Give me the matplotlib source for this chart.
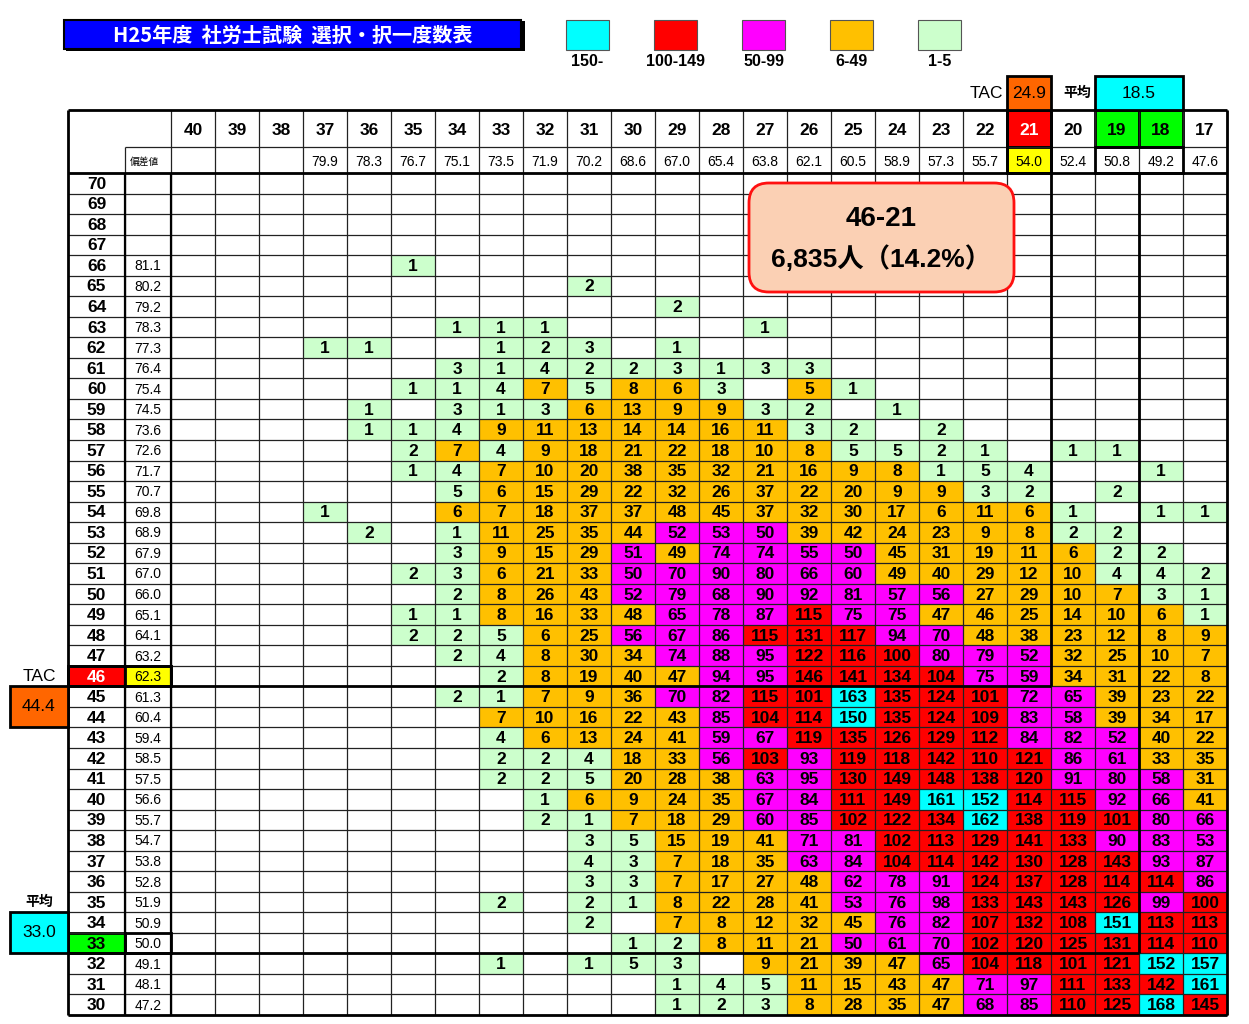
import matplotlib
matplotlib.use("Agg")
import matplotlib.pyplot as plt
from matplotlib.patches import Rectangle, FancyBboxPatch

plt.rcParams["font.family"] = ["Liberation Sans", "Noto Sans CJK JP", "DejaVu Sans"]

# ── データ ────────────────────────────────────────────────────────────────
title = "H25年度  社労士試験  選択・択一度数表"

col_scores = [40, 39, 38, 37, 36, 35, 34, 33, 32, 31, 30, 29, 28, 27, 26, 25, 24, 23, 22, 21, 20, 19, 18, 17]
col_dev = ["", "", "", "79.9", "78.3", "76.7", "75.1", "73.5", "71.9", "70.2", "68.6", "67.0",
           "65.4", "63.8", "62.1", "60.5", "58.9", "57.3", "55.7", "54.0", "52.4", "50.8", "49.2", "47.6"]

row_scores = list(range(70, 29, -1))
row_dev = ["", "", "", "", "81.1", "80.2", "79.2", "78.3", "77.3", "76.4", "75.4", "74.5", "73.6",
           "72.6", "71.7", "70.7", "69.8", "68.9", "67.9", "67.0", "66.0", "65.1", "64.1", "63.2",
           "62.3", "61.3", "60.4", "59.4", "58.5", "57.5", "56.6", "55.7", "54.7", "53.8", "52.8",
           "51.9", "50.9", "50.0", "49.1", "48.1", "47.2"]

counts = [
    [0] * 24,  # 70
    [0] * 24,  # 69
    [0] * 24,  # 68
    [0] * 24,  # 67
    [0, 0, 0, 0, 0, 1, 0, 0, 0, 0, 0, 0, 0, 0, 0, 0, 0, 0, 0, 0, 0, 0, 0, 0],  # 66
    [0, 0, 0, 0, 0, 0, 0, 0, 0, 2, 0, 0, 0, 0, 0, 0, 0, 0, 0, 0, 0, 0, 0, 0],  # 65
    [0, 0, 0, 0, 0, 0, 0, 0, 0, 0, 0, 2, 0, 0, 0, 0, 0, 0, 0, 0, 0, 0, 0, 0],  # 64
    [0, 0, 0, 0, 0, 0, 1, 1, 1, 0, 0, 0, 0, 1, 0, 0, 0, 0, 0, 0, 0, 0, 0, 0],  # 63
    [0, 0, 0, 1, 1, 0, 0, 1, 2, 3, 0, 1, 0, 0, 0, 0, 0, 0, 0, 0, 0, 0, 0, 0],  # 62
    [0, 0, 0, 0, 0, 0, 3, 1, 4, 2, 2, 3, 1, 3, 3, 0, 0, 0, 0, 0, 0, 0, 0, 0],  # 61
    [0, 0, 0, 0, 0, 1, 1, 4, 7, 5, 8, 6, 3, 0, 5, 1, 0, 0, 0, 0, 0, 0, 0, 0],  # 60
    [0, 0, 0, 0, 1, 0, 3, 1, 3, 6, 13, 9, 9, 3, 2, 0, 1, 0, 0, 0, 0, 0, 0, 0],  # 59
    [0, 0, 0, 0, 1, 1, 4, 9, 11, 13, 14, 14, 16, 11, 3, 2, 0, 2, 0, 0, 0, 0, 0, 0],  # 58
    [0, 0, 0, 0, 0, 2, 7, 4, 9, 18, 21, 22, 18, 10, 8, 5, 5, 2, 1, 0, 1, 1, 0, 0],  # 57
    [0, 0, 0, 0, 0, 1, 4, 7, 10, 20, 38, 35, 32, 21, 16, 9, 8, 1, 5, 4, 0, 0, 1, 0],  # 56
    [0, 0, 0, 0, 0, 0, 5, 6, 15, 29, 22, 32, 26, 37, 22, 20, 9, 9, 3, 2, 0, 2, 0, 0],  # 55
    [0, 0, 0, 1, 0, 0, 6, 7, 18, 37, 37, 48, 45, 37, 32, 30, 17, 6, 11, 6, 1, 0, 1, 1],  # 54
    [0, 0, 0, 0, 2, 0, 1, 11, 25, 35, 44, 52, 53, 50, 39, 42, 24, 23, 9, 8, 2, 2, 0, 0],  # 53
    [0, 0, 0, 0, 0, 0, 3, 9, 15, 29, 51, 49, 74, 74, 55, 50, 45, 31, 19, 11, 6, 2, 2, 0],  # 52
    [0, 0, 0, 0, 0, 2, 3, 6, 21, 33, 50, 70, 90, 80, 66, 60, 49, 40, 29, 12, 10, 4, 4, 2],  # 51
    [0, 0, 0, 0, 0, 0, 2, 8, 26, 43, 52, 79, 68, 90, 92, 81, 57, 56, 27, 29, 10, 7, 3, 1],  # 50
    [0, 0, 0, 0, 0, 1, 1, 8, 16, 33, 48, 65, 78, 87, 115, 75, 75, 47, 46, 25, 14, 10, 6, 1],  # 49
    [0, 0, 0, 0, 0, 2, 2, 5, 6, 25, 56, 67, 86, 115, 131, 117, 94, 70, 48, 38, 23, 12, 8, 9],  # 48
    [0, 0, 0, 0, 0, 0, 2, 4, 8, 30, 34, 74, 88, 95, 122, 116, 100, 80, 79, 52, 32, 25, 10, 7],  # 47
    [0, 0, 0, 0, 0, 0, 0, 2, 8, 19, 40, 47, 94, 95, 146, 141, 134, 104, 75, 59, 34, 31, 22, 8],  # 46
    [0, 0, 0, 0, 0, 0, 2, 1, 7, 9, 36, 70, 82, 115, 101, 163, 135, 124, 101, 72, 65, 39, 23, 22],  # 45
    [0, 0, 0, 0, 0, 0, 0, 7, 10, 16, 22, 43, 85, 104, 114, 150, 135, 124, 109, 83, 58, 39, 34, 17],  # 44
    [0, 0, 0, 0, 0, 0, 0, 4, 6, 13, 24, 41, 59, 67, 119, 135, 126, 129, 112, 84, 82, 52, 40, 22],  # 43
    [0, 0, 0, 0, 0, 0, 0, 2, 2, 4, 18, 33, 56, 103, 93, 119, 118, 142, 110, 121, 86, 61, 33, 35],  # 42
    [0, 0, 0, 0, 0, 0, 0, 2, 2, 5, 20, 28, 38, 63, 95, 130, 149, 148, 138, 120, 91, 80, 58, 31],  # 41
    [0, 0, 0, 0, 0, 0, 0, 0, 1, 6, 9, 24, 35, 67, 84, 111, 149, 161, 152, 114, 115, 92, 66, 41],  # 40
    [0, 0, 0, 0, 0, 0, 0, 0, 2, 1, 7, 18, 29, 60, 85, 102, 122, 134, 162, 138, 119, 101, 80, 66],  # 39
    [0, 0, 0, 0, 0, 0, 0, 0, 0, 3, 5, 15, 19, 41, 71, 81, 102, 113, 129, 141, 133, 90, 83, 53],  # 38
    [0, 0, 0, 0, 0, 0, 0, 0, 0, 4, 3, 7, 18, 35, 63, 84, 104, 114, 142, 130, 128, 143, 93, 87],  # 37
    [0, 0, 0, 0, 0, 0, 0, 0, 0, 3, 3, 7, 17, 27, 48, 62, 78, 91, 124, 137, 128, 114, 114, 86],  # 36
    [0, 0, 0, 0, 0, 0, 0, 2, 0, 2, 1, 8, 22, 28, 41, 53, 76, 98, 133, 143, 143, 126, 99, 100],  # 35
    [0, 0, 0, 0, 0, 0, 0, 0, 0, 2, 0, 7, 8, 12, 32, 45, 76, 82, 107, 132, 108, 151, 113, 113],  # 34
    [0, 0, 0, 0, 0, 0, 0, 0, 0, 0, 1, 2, 8, 11, 21, 50, 61, 70, 102, 120, 125, 131, 114, 110],  # 33
    [0, 0, 0, 0, 0, 0, 0, 1, 0, 1, 5, 3, 0, 9, 21, 39, 47, 65, 104, 118, 101, 121, 152, 157],  # 32
    [0, 0, 0, 0, 0, 0, 0, 0, 0, 0, 0, 1, 4, 5, 11, 15, 43, 47, 71, 97, 111, 133, 142, 161],  # 31
    [0, 0, 0, 0, 0, 0, 0, 0, 0, 0, 0, 1, 2, 3, 8, 28, 35, 47, 68, 85, 110, 125, 168, 145],  # 30
]

# 度数の色区分
bin_mins = [150, 100, 50, 6, 1]
bin_labels = ["150-", "100-149", "50-99", "6-49", "1-5"]
bin_colors = ["#00FFFF", "#FF0000", "#FF00FF", "#FFC000", "#CCFFCC"]
# 元の表で区分と色が食い違っているセル (択一, 選択) -> 色区分
color_override = {(60, 26): "6-49"}

tac_score = (46, 21)
tac_avg = {"選択": "24.9", "択一": "44.4"}
mean_score = (33, 18.5)
mean_avg = {"選択": "18.5", "択一": "33.0"}
callout = ["46-21", "6,835人（14.2%）"]

# ── レイアウト ─────────────────────────────────────────────────────────────
W, H = 1249, 1024
COL_PX, ROW_PX = 44.0, 842.0 / 41
HDR1 = -63 / ROW_PX      # 列番号行の上端
HDR2 = -26 / ROW_PX      # 偏差値行の上端
X_RN = -103 / COL_PX     # 行番号列の左端
X_DV = -46 / COL_PX      # 偏差値列の左端
X_BOX = -161 / COL_PX    # 左側ボックスの左端
THIN, THICK = 0.9, 2.0
NUM_FONT = ["Liberation Sans", "Noto Sans CJK JP"]

fig = plt.figure(figsize=(W / 100, H / 100), dpi=100)
ax = fig.add_axes([171 / W, 1 - 1015 / H, (1227 - 171) / W, (1015 - 173) / H])
ax.set_xlim(0, len(col_scores))
ax.set_ylim(len(row_scores), 0)
ax.axis("off")

n_rows, n_cols = len(row_scores), len(col_scores)


def cell_color(v, rs, cs):
    if (rs, cs) in color_override:
        return bin_colors[bin_labels.index(color_override[(rs, cs)])]
    for m, c in zip(bin_mins, bin_colors):
        if v >= m:
            return c
    return None


def box(x0, y0, w, h, fc="none", lw=THICK, z=3):
    ax.add_patch(Rectangle((x0, y0), w, h, facecolor=fc, edgecolor="black",
                           linewidth=lw, zorder=z, clip_on=False))


# 度数セル
for i, rs in enumerate(row_scores):
    for j, cs in enumerate(col_scores):
        v = counts[i][j]
        if not v:
            continue
        ax.add_patch(Rectangle((j, i), 1, 1, facecolor=cell_color(v, rs, cs),
                               edgecolor="none", zorder=1))
        ax.text(j + 0.5, i + 0.55, str(v), ha="center", va="center", fontsize=12.5,
                fontweight="bold", family=NUM_FONT, zorder=4)

# 強調ヘッダーの塗り
tac_c = col_scores.index(tac_score[1])
tac_r = row_scores.index(tac_score[0])
mean_r = row_scores.index(mean_score[0])
mean_c = col_scores.index(19)
box(tac_c, HDR1, 1, HDR2 - HDR1, fc="#FF0000", z=1)
box(tac_c, HDR2, 1, -HDR2, fc="#FFFF00", z=1)
for j in (mean_c, mean_c + 1):
    box(j, HDR1, 1, HDR2 - HDR1, fc="#00FF00", z=1)
box(X_RN, tac_r, X_DV - X_RN, 1, fc="#FF0000", z=1)
box(X_DV, tac_r, -X_DV, 1, fc="#FFFF00", z=1)
box(X_RN, mean_r, X_DV - X_RN, 1, fc="#00FF00", z=1)

# 細い罫線
ax.hlines(range(n_rows + 1), X_RN, n_cols, color="#222222", lw=THIN, zorder=2, clip_on=False)
ax.hlines(HDR2, X_DV, n_cols, color="#222222", lw=THIN, zorder=2, clip_on=False)
ax.vlines(range(n_cols + 1), HDR1, n_rows, color="#222222", lw=THIN, zorder=2, clip_on=False)
ax.vlines(X_DV, HDR2, n_rows, color="#222222", lw=THIN, zorder=2, clip_on=False)

# 太い罫線
ax.hlines([HDR1, 0, n_rows], X_RN, n_cols, color="black", lw=THICK, zorder=3, clip_on=False)
ax.vlines([X_RN, n_cols], HDR1, n_rows, color="black", lw=THICK, zorder=3, clip_on=False)
ax.vlines([X_DV, 0], 0, n_rows, color="black", lw=THICK * 0.8, zorder=3, clip_on=False)
ax.vlines(tac_c + 1, HDR1, tac_r + 1, color="black", lw=THICK, zorder=3)
ax.hlines(tac_r + 1, X_RN, tac_c + 1, color="black", lw=THICK, zorder=3, clip_on=False)
ax.vlines(mean_c + 1, HDR1, mean_r + 1, color="black", lw=THICK, zorder=3)
ax.hlines(mean_r + 1, X_RN, mean_c + 1, color="black", lw=THICK, zorder=3, clip_on=False)
box(tac_c, HDR1, 1, -HDR1)
box(mean_c, HDR2, 2, -HDR2)
box(X_RN, tac_r, -X_RN, 1)
box(X_DV, mean_r, -X_DV, 1)

# ヘッダー文字
for j, (cs, dv) in enumerate(zip(col_scores, col_dev)):
    ax.text(j + 0.5, (HDR1 + HDR2) / 2 + 0.1, str(cs), ha="center", va="center",
            fontsize=12.5, fontweight="bold", family=NUM_FONT,
            color="white" if j == tac_c else "black", zorder=4, clip_on=False)
    ax.text(j + 0.5, HDR2 / 2 + 0.1, dv, ha="center", va="center", fontsize=10,
            family=NUM_FONT, zorder=4, clip_on=False)
ax.text(X_DV + 0.12, HDR2 / 2 + 0.1, "偏差値", ha="left", va="center", fontsize=7,
        family=["Noto Sans CJK JP"], zorder=4, clip_on=False)

# 行見出し
for i, (rs, dv) in enumerate(zip(row_scores, row_dev)):
    ax.text((X_RN + X_DV) / 2, i + 0.55, str(rs), ha="center", va="center", fontsize=12.5,
            fontweight="bold", family=NUM_FONT, color="white" if i == tac_r else "black",
            zorder=4, clip_on=False)
    ax.text(X_DV / 2, i + 0.55, dv, ha="center", va="center", fontsize=10,
            family=NUM_FONT, zorder=4, clip_on=False)

# TAC・平均のボックス
ax.text(tac_c - 0.08, HDR1 - 0.82, "TAC", ha="right", va="center", fontsize=12.5,
        family=NUM_FONT, clip_on=False)
box(tac_c, HDR1 - 1.66, 1, 1.66, fc="#FF6600")
ax.text(tac_c + 0.5, HDR1 - 0.82, tac_avg["選択"], ha="center", va="center", fontsize=12.5,
        family=NUM_FONT, clip_on=False, zorder=4)
ax.text(mean_c - 0.08, HDR1 - 0.82, "平均", ha="right", va="center", fontsize=10,
        fontweight="bold", family=["Noto Sans CJK JP"], clip_on=False)
box(mean_c, HDR1 - 1.66, 2, 1.66, fc="#00FFFF")
ax.text(mean_c + 1, HDR1 - 0.82, mean_avg["選択"], ha="center", va="center", fontsize=12.5,
        family=NUM_FONT, clip_on=False, zorder=4)

ax.text((X_BOX + X_RN) / 2, tac_r + 0.5, "TAC", ha="center", va="center", fontsize=12.5,
        family=NUM_FONT, clip_on=False)
box(X_BOX, tac_r + 1, X_RN - X_BOX, 2, fc="#FF6600")
ax.text((X_BOX + X_RN) / 2, tac_r + 2, tac_avg["択一"], ha="center", va="center", fontsize=12.5,
        family=NUM_FONT, clip_on=False, zorder=4)
ax.text((X_BOX + X_RN) / 2, mean_r - 1.5, "平均", ha="center", va="center", fontsize=10,
        fontweight="bold", family=["Noto Sans CJK JP"], clip_on=False)
box(X_BOX, mean_r - 1, X_RN - X_BOX, 2, fc="#00FFFF")
ax.text((X_BOX + X_RN) / 2, mean_r, mean_avg["択一"], ha="center", va="center", fontsize=12.5,
        family=NUM_FONT, clip_on=False, zorder=4)

# 吹き出し
cx0, cx1 = (749 - 171) / COL_PX, (1014 - 171) / COL_PX
cy0, cy1 = (183 - 173) / ROW_PX, (292 - 173) / ROW_PX
ax.add_patch(FancyBboxPatch((cx0, cy0), cx1 - cx0, cy1 - cy0,
                            boxstyle="round,pad=0,rounding_size=0.45",
                            mutation_aspect=COL_PX / ROW_PX, facecolor="#FBD0B4",
                            edgecolor="#FF1010", linewidth=2.0, zorder=5))
ax.text((cx0 + cx1) / 2, cy0 + 1.75, callout[0], ha="center", va="center", fontsize=20,
        fontweight="bold", family=NUM_FONT, zorder=6)
ax.text((cx0 + cx1) / 2, cy0 + 3.7, callout[1], ha="center", va="center", fontsize=19,
        fontweight="bold", family=NUM_FONT, zorder=6)

# タイトル
fig.patches.append(Rectangle((66 / W, 1 - 51 / H), 459 / W, 30 / H, transform=fig.transFigure,
                             facecolor="black", edgecolor="none", zorder=1))
fig.patches.append(Rectangle((64 / W, 1 - 49 / H), 457 / W, 29 / H, transform=fig.transFigure,
                             facecolor="#0000FF", edgecolor="black", linewidth=1.5, zorder=2))
fig.text(293 / W, 1 - 35 / H, title, ha="center", va="center", color="white", fontsize=14.5,
         fontweight="bold", family=["Noto Sans CJK JP"], zorder=3)

# 凡例 (1単位 = 88px)
LEG_PX = 88.0
lax = fig.add_axes([(566 - 0.25 * LEG_PX) / W, 1 - 72 / H, 4.5 * LEG_PX / W, 54 / H])
lax.set_xlim(-0.25, len(bin_labels) - 0.75)
lax.set_ylim(1, 0)
lax.axis("off")
for k, (lab, col) in enumerate(zip(bin_labels, bin_colors)):
    lax.add_patch(Rectangle((k, 0.04), 43 / LEG_PX, 0.55, facecolor=col, edgecolor="#555555",
                            linewidth=0.8, clip_on=False))
    lax.text(k + 21.5 / LEG_PX, 0.8, lab, ha="center", va="center", fontsize=11.5,
             fontweight="bold", family=NUM_FONT, clip_on=False)

fig.savefig("out.png", dpi=100, facecolor="white")
